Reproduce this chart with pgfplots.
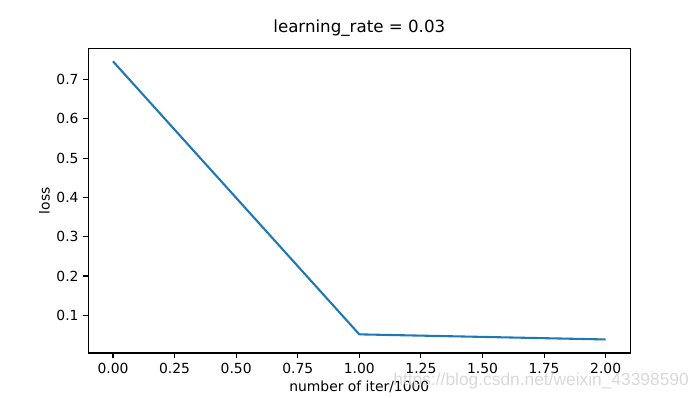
\documentclass[border=0pt]{standalone}
\usepackage{pgfplots}
\pgfplotsset{compat=1.18}
\usepackage{fontspec}
\setmainfont{DejaVu Sans}
\newfontfamily\wmfont{Liberation Sans}
\definecolor{mplblue}{HTML}{1F77B4}
\begin{document}
\begin{tikzpicture}[x=1pt,y=1pt]
\begin{axis}[
  at={(0,0)}, anchor=south west,
  scale only axis,
  width=390.2pt, height=219.4pt,
  xmin=-0.1, xmax=2.1,
  ymin=0.0039, ymax=0.7797,
  xtick={0,0.25,0.5,0.75,1,1.25,1.5,1.75,2},
  xticklabels={0.00,0.25,0.50,0.75,1.00,1.25,1.50,1.75,2.00},
  ytick={0.1,0.2,0.3,0.4,0.5,0.6,0.7},
  yticklabels={0.1,0.2,0.3,0.4,0.5,0.6,0.7},
  tick align=outside,
  tick pos=left,
  major tick length=3.5pt,
  every tick/.style={black, line width=0.8pt},
  axis line style={line width=0.8pt},
  tick label style={font=\fontsize{10}{12}\selectfont},
  xticklabel style={yshift=-0.5pt},
  title={learning\_rate = 0.03},
  title style={font=\fontsize{12}{14}\selectfont, yshift=-1pt},
  xlabel={number of iter/1000},
  ylabel={loss},
  label style={font=\fontsize{10}{12}\selectfont},
  xlabel style={yshift=2pt},
  ylabel style={yshift=-2pt},
  clip=false,
]
\addplot[mplblue, line width=1.5pt, line join=round] coordinates {
  (0,0.7466) (1,0.0515) (2,0.0385)
};
\end{axis}
\node[anchor=base east, text=black!15, font=\wmfont\fontsize{12.5}{14}\selectfont, inner sep=0pt] at (432.5,-23.3) {https://blog.csdn.net/weixin\_43398590};
\path (-63.6,-32.0) rectangle (440.4,254.2);
\end{tikzpicture}
\end{document}
